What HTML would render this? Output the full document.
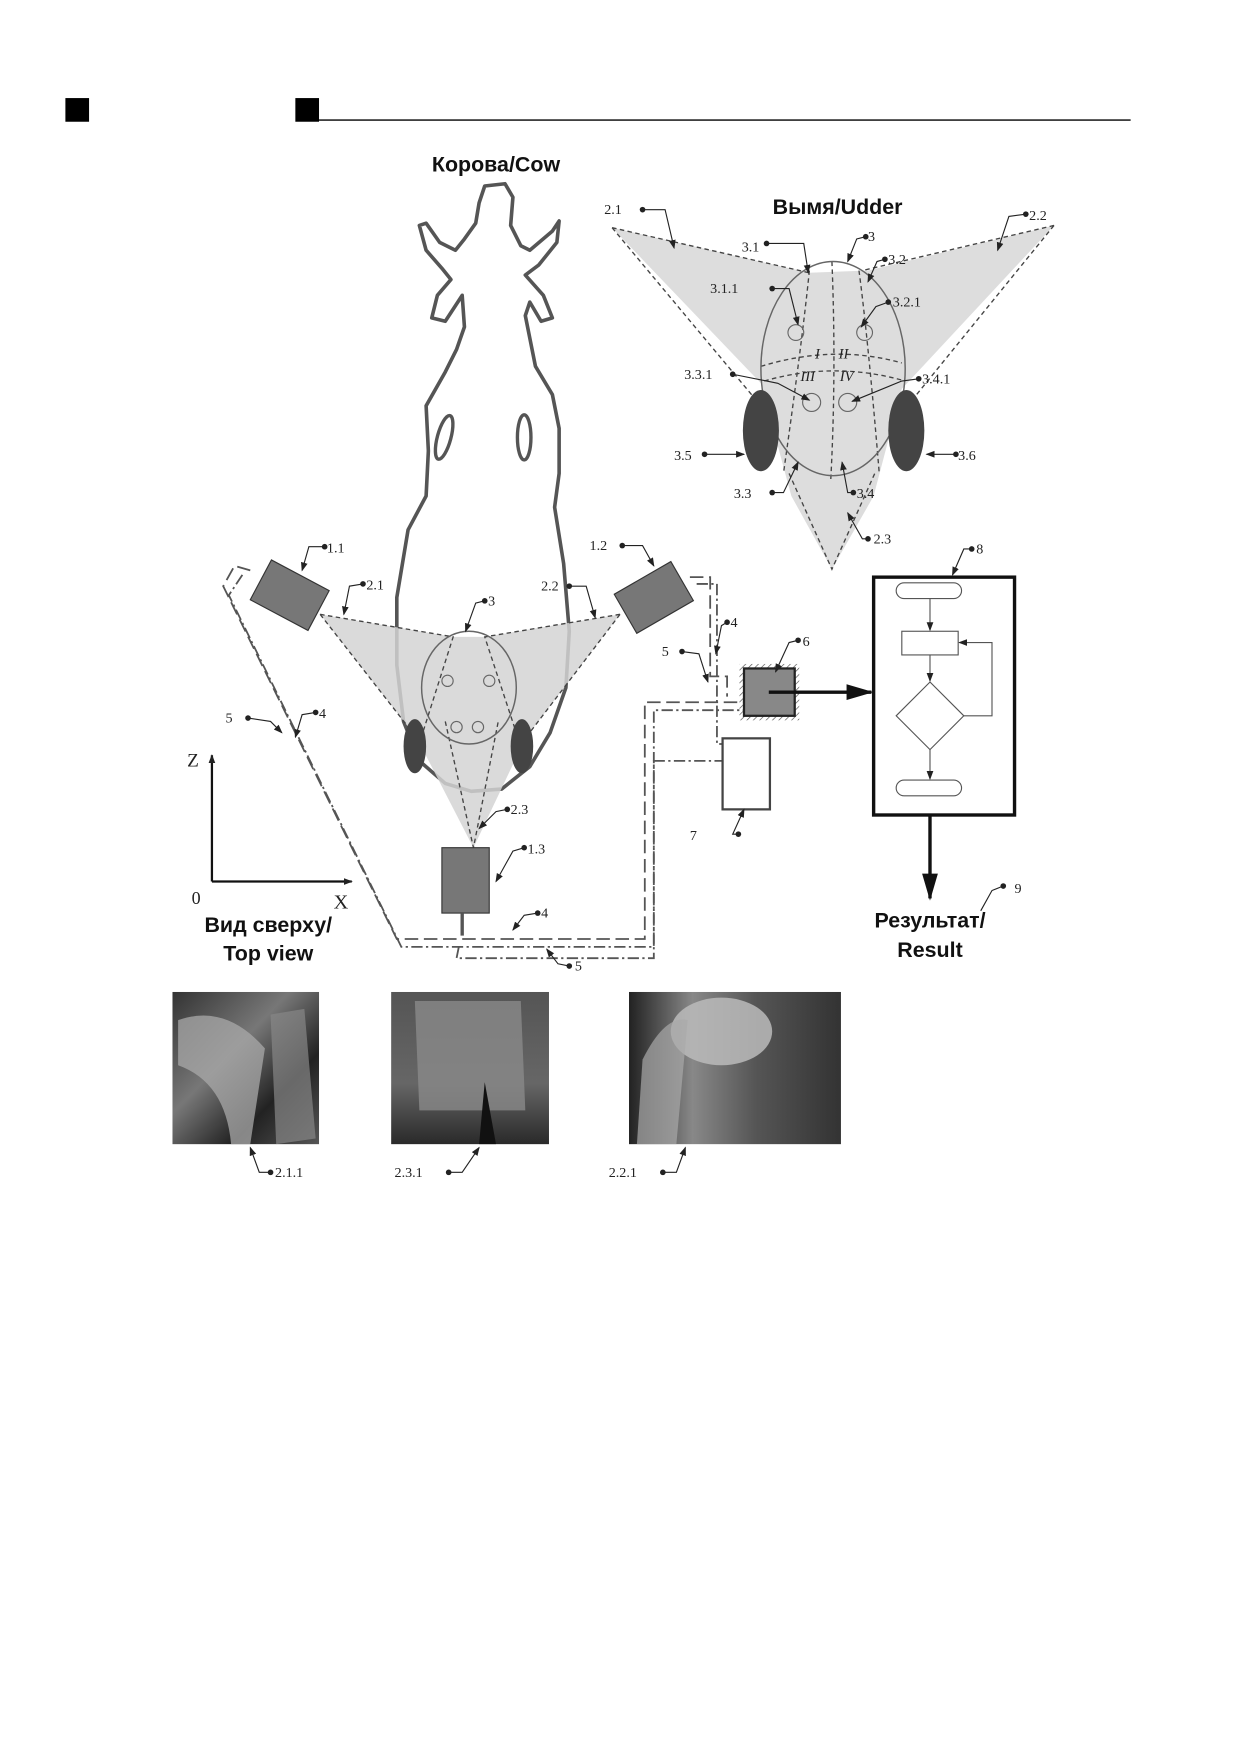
<!DOCTYPE html>
<html><head><meta charset="utf-8"><style>
html,body{margin:0;padding:0;background:#fff}
svg{display:block}
text{font-family:"Liberation Serif",serif;fill:#222}
.b{font-family:"Liberation Sans","DejaVu Sans",sans-serif;font-weight:bold;fill:#111}
</style></head><body>
<svg width="1240" height="1754" viewBox="0 0 1100 1556" xmlns="http://www.w3.org/2000/svg">
<defs>
<marker id="ah" markerWidth="8" markerHeight="8" refX="7" refY="4" orient="auto" markerUnits="userSpaceOnUse"><path d="M0,1 L8,4 L0,7z" fill="#222"/></marker>
<marker id="big" markerWidth="24" markerHeight="14" refX="22" refY="7" orient="auto" markerUnits="userSpaceOnUse"><path d="M0,0 L24,7 L0,14z" fill="#111"/></marker>
<marker id="dot" markerWidth="6" markerHeight="6" refX="3" refY="3" markerUnits="userSpaceOnUse"><circle cx="3" cy="3" r="2.5" fill="#222"/></marker>
<pattern id="hatch" width="4" height="4" patternUnits="userSpaceOnUse" patternTransform="rotate(45)"><line x1="0" y1="0" x2="0" y2="4" stroke="#555" stroke-width="1.2"/></pattern>
<linearGradient id="p1" x1="0" y1="0" x2="1" y2="1"><stop offset="0" stop-color="#333"/><stop offset=".4" stop-color="#777"/><stop offset=".7" stop-color="#222"/><stop offset="1" stop-color="#555"/></linearGradient>
<linearGradient id="p2" x1="0" y1="0" x2="0" y2="1"><stop offset="0" stop-color="#555"/><stop offset=".6" stop-color="#666"/><stop offset="1" stop-color="#2a2a2a"/></linearGradient>
<linearGradient id="p3" x1="0" y1="0" x2="1" y2="0"><stop offset="0" stop-color="#222"/><stop offset=".3" stop-color="#888"/><stop offset=".6" stop-color="#555"/><stop offset="1" stop-color="#333"/></linearGradient>
</defs>

<rect x="58" y="87" width="21" height="21" fill="#000"/>
<rect x="262" y="87" width="21" height="21" fill="#000"/>
<line x1="283" y1="106.5" x2="1003" y2="106.5" stroke="#000" stroke-width="1.3"/>

<text class="b" x="440" y="152" font-size="19" text-anchor="middle">Корова/Cow</text>
<text class="b" x="743" y="190" font-size="19" text-anchor="middle">Вымя/Udder</text>

<path d="M430,165 L448,163 L455,175 L453,200 L462,218 L470,222 L490,205 L496,196 L494,215 L478,235 L466,244 L482,262 L490,282 L480,285 L470,268 L466,280 L470,300 L475,325 L490,350 L496,380 L496,420 L492,450 L500,500 L505,560 L502,610 L488,650 L470,680 L445,700 L418,702 L395,695 L372,675 L358,640 L352,590 L352,530 L362,470 L378,440 L380,400 L378,360 L395,330 L405,310 L412,290 L410,262 L395,285 L383,282 L388,262 L400,248 L392,238 L378,222 L372,200 L378,198 L390,215 L404,222 L412,212 L422,198 L425,180 Z" fill="none" stroke="#555" stroke-width="3.2" stroke-linejoin="round"/>
<ellipse cx="394" cy="388" rx="6" ry="20" transform="rotate(15 394 388)" fill="none" stroke="#555" stroke-width="3"/>
<ellipse cx="465" cy="388" rx="6" ry="20" fill="none" stroke="#555" stroke-width="3"/>

<polygon points="284,545 402,565 430,565 550,545 466,655 420,752 370,655" fill="#d4d4d4" opacity=".85"/>
<g fill="none" stroke="#444" stroke-width="1.2" stroke-dasharray="4,3">
<polyline points="284,545 402,565 375,650"/><polyline points="550,545 430,565 458,650"/>
<polyline points="284,545 370,655"/><polyline points="550,545 466,655"/>
<polyline points="395,640 420,752 442,640"/>
</g>
<ellipse cx="416" cy="610" rx="42" ry="50" fill="none" stroke="#666" stroke-width="1.3"/>
<circle cx="397" cy="604" r="5" fill="none" stroke="#666"/><circle cx="434" cy="604" r="5" fill="none" stroke="#666"/>
<circle cx="405" cy="645" r="5" fill="none" stroke="#666"/><circle cx="424" cy="645" r="5" fill="none" stroke="#666"/>
<ellipse cx="368" cy="662" rx="10" ry="24" fill="#444"/>
<ellipse cx="463" cy="662" rx="10" ry="24" fill="#444"/>

<rect x="228" y="508" width="58" height="40" transform="rotate(28 257 528)" fill="#777" stroke="#333"/>
<rect x="551" y="510" width="58" height="40" transform="rotate(-30 580 530)" fill="#777" stroke="#333"/>
<rect x="392" y="752" width="42" height="58" fill="#777" stroke="#333"/>
<line x1="410" y1="810" x2="410" y2="830" stroke="#555" stroke-width="3"/>

<g fill="none" stroke="#555" stroke-width="1.6">
<polyline points="222,506 208,502 198,520 352,833 572,833 572,623 660,623" stroke-dasharray="12,5"/>
<polyline points="215,510 203,528 356,840 580,840 580,630 660,630" stroke-dasharray="10,3,2,3"/>
<polyline points="407,840 405,850 580,850 580,675 641,675" stroke-dasharray="10,3,2,3"/>
<polyline points="612,512 630,512 630,600 645,600 645,618" stroke-dasharray="12,5"/>
<polyline points="618,518 636,518 636,660 641,660" stroke-dasharray="10,3,2,3"/>
</g>

<rect x="656" y="589" width="53" height="50" fill="url(#hatch)"/>
<rect x="660" y="593" width="45" height="42" fill="#888" stroke="#222" stroke-width="2"/>
<line x1="682" y1="614" x2="773" y2="614" stroke="#111" stroke-width="3" marker-end="url(#big)"/>
<rect x="641" y="655" width="42" height="63" fill="#fff" stroke="#444" stroke-width="2"/>

<rect x="775" y="512" width="125" height="211" fill="#fff" stroke="#111" stroke-width="3"/>
<rect x="795" y="517" width="58" height="14" rx="7" fill="none" stroke="#555"/>
<rect x="800" y="560" width="50" height="21" fill="none" stroke="#555"/>
<polygon points="825,605 855,635 825,665 795,635" fill="none" stroke="#555"/>
<rect x="795" y="692" width="58" height="14" rx="7" fill="none" stroke="#555"/>
<g stroke="#555" fill="none" marker-end="url(#ah)">
<line x1="825" y1="531" x2="825" y2="559"/><line x1="825" y1="581" x2="825" y2="604"/><line x1="825" y1="665" x2="825" y2="691"/>
<polyline points="855,635 880,635 880,570 851,570"/>
</g>
<line x1="825" y1="723" x2="825" y2="797" stroke="#111" stroke-width="3" marker-end="url(#big)"/>
<text class="b" x="825" y="823" font-size="19" text-anchor="middle">Результат/</text>
<text class="b" x="825" y="849" font-size="19" text-anchor="middle">Result</text>

<line x1="188" y1="782" x2="188" y2="670" stroke="#111" stroke-width="2" marker-end="url(#ah)"/>
<line x1="188" y1="782" x2="312" y2="782" stroke="#111" stroke-width="2" marker-end="url(#ah)"/>
<text x="166" y="680" font-size="17">Z</text>
<text x="170" y="802" font-size="16">0</text>
<text x="296" y="806" font-size="18">X</text>
<text class="b" x="238" y="827" font-size="19" text-anchor="middle">Вид сверху/</text>
<text class="b" x="238" y="852" font-size="19" text-anchor="middle">Top view</text>

<polygon points="543,202 718,242 770,240 935,200 800,345 775,440 738,505 702,440 675,340" fill="#d9d9d9" opacity=".9"/>
<g fill="none" stroke="#444" stroke-width="1.2" stroke-dasharray="4,3">
<polyline points="543,202 718,242"/><polyline points="935,200 765,240"/>
<polyline points="543,202 675,360"/><polyline points="935,200 805,360"/>
<polyline points="700,420 738,505 776,420"/>
<path d="M738,232 Q742,330 737,425"/><path d="M718,240 Q712,300 695,420"/><path d="M762,240 Q770,300 780,420"/>
<path d="M675,325 Q740,305 800,322"/><path d="M678,338 Q740,320 803,338"/>
</g>
<ellipse cx="739" cy="327" rx="64" ry="95" fill="none" stroke="#666" stroke-width="1.3"/>
<circle cx="706" cy="295" r="7" fill="none" stroke="#666"/><circle cx="767" cy="295" r="7" fill="none" stroke="#666"/>
<circle cx="720" cy="357" r="8" fill="none" stroke="#666"/><circle cx="752" cy="357" r="8" fill="none" stroke="#666"/>
<ellipse cx="675" cy="382" rx="16" ry="36" fill="#444"/>
<ellipse cx="804" cy="382" rx="16" ry="36" fill="#444"/>
<g font-family="Liberation Serif" font-style="italic" font-size="13" fill="#444">
<text x="723" y="318">I</text><text x="744" y="318">II</text><text x="710" y="338">III</text><text x="745" y="338">IV</text>
</g>

<g fill="none" stroke="#222" stroke-width="1" marker-start="url(#dot)" marker-end="url(#ah)">
<polyline points="570,186 590,186 598,220"/>
<polyline points="910,190 895,192 885,222"/>
<polyline points="680,216 713,216 717,242"/>
<polyline points="768,210 760,212 752,232"/>
<polyline points="785,230 778,232 770,250"/>
<polyline points="685,256 700,256 708,288"/>
<polyline points="788,268 777,272 764,290"/>
<polyline points="650,332 690,340 718,355"/>
<polyline points="815,336 800,338 756,356"/>
<polyline points="625,403 660,403"/>
<polyline points="848,403 822,403"/>
<polyline points="685,437 695,437 708,410"/>
<polyline points="757,437 752,437 747,410"/>
<polyline points="770,478 765,478 752,455"/>
<polyline points="862,487 855,487 845,510"/>
<polyline points="288,485 274,485 268,506"/>
<polyline points="552,484 570,484 580,502"/>
<polyline points="322,518 310,520 305,545"/>
<polyline points="505,520 520,520 528,548"/>
<polyline points="430,533 422,535 413,560"/>
<polyline points="220,637 240,640 250,650"/>
<polyline points="280,632 268,634 262,654"/>
<polyline points="645,552 640,555 635,580"/>
<polyline points="605,578 620,580 628,605"/>
<polyline points="708,568 700,570 688,596"/>
<polyline points="450,718 440,720 425,735"/>
<polyline points="465,752 455,755 440,782"/>
<polyline points="477,810 465,812 455,825"/>
<polyline points="505,857 495,855 485,842"/>
<polyline points="655,740 650,740 660,718"/>
<polyline points="890,786 880,790 870,808" marker-end="none"/>
<polyline points="240,1040 230,1040 222,1018"/>
<polyline points="398,1040 410,1040 425,1018"/>
<polyline points="588,1040 600,1040 608,1018"/>
</g>
<g font-size="12.5">
<text x="536" y="190">2.1</text><text x="913" y="195">2.2</text>
<text x="658" y="223">3.1</text><text x="770" y="214">3</text><text x="788" y="234">3.2</text>
<text x="630" y="260">3.1.1</text><text x="792" y="272">3.2.1</text>
<text x="607" y="336">3.3.1</text><text x="818" y="340">3.4.1</text>
<text x="598" y="408">3.5</text><text x="850" y="408">3.6</text>
<text x="651" y="442">3.3</text><text x="760" y="442">3.4</text><text x="775" y="482">2.3</text>
<text x="866" y="491">8</text>
<text x="290" y="490">1.1</text><text x="523" y="488">1.2</text>
<text x="325" y="523">2.1</text><text x="480" y="524">2.2</text><text x="433" y="537">3</text>
<text x="200" y="641">5</text><text x="283" y="637">4</text>
<text x="648" y="556">4</text><text x="587" y="582">5</text><text x="712" y="573">6</text>
<text x="453" y="722">2.3</text><text x="468" y="757">1.3</text>
<text x="480" y="814">4</text><text x="510" y="861">5</text>
<text x="612" y="745">7</text><text x="900" y="792">9</text>
<text x="244" y="1044">2.1.1</text><text x="350" y="1044">2.3.1</text><text x="540" y="1044">2.2.1</text>
</g>

<rect x="153" y="880" width="130" height="135" fill="url(#p1)"/>
<path d="M158,905 Q200,890 235,930 L222,1015 L205,1015 Q200,960 158,945Z" fill="#aaa" opacity=".75"/>
<path d="M240,900 L270,895 L280,1010 L245,1015Z" fill="#888" opacity=".7"/>
<rect x="347" y="880" width="140" height="135" fill="url(#p2)"/>
<path d="M368,888 L462,888 L466,985 L372,985Z" fill="#8a8a8a" opacity=".8"/>
<path d="M430,960 L440,1015 L425,1015Z" fill="#111"/>
<rect x="558" y="880" width="188" height="135" fill="url(#p3)"/>
<ellipse cx="640" cy="915" rx="45" ry="30" fill="#bbb" opacity=".85"/>
<path d="M570,940 Q590,900 610,905 L600,1015 L565,1015Z" fill="#aaa" opacity=".7"/>
</svg>
</body></html>
